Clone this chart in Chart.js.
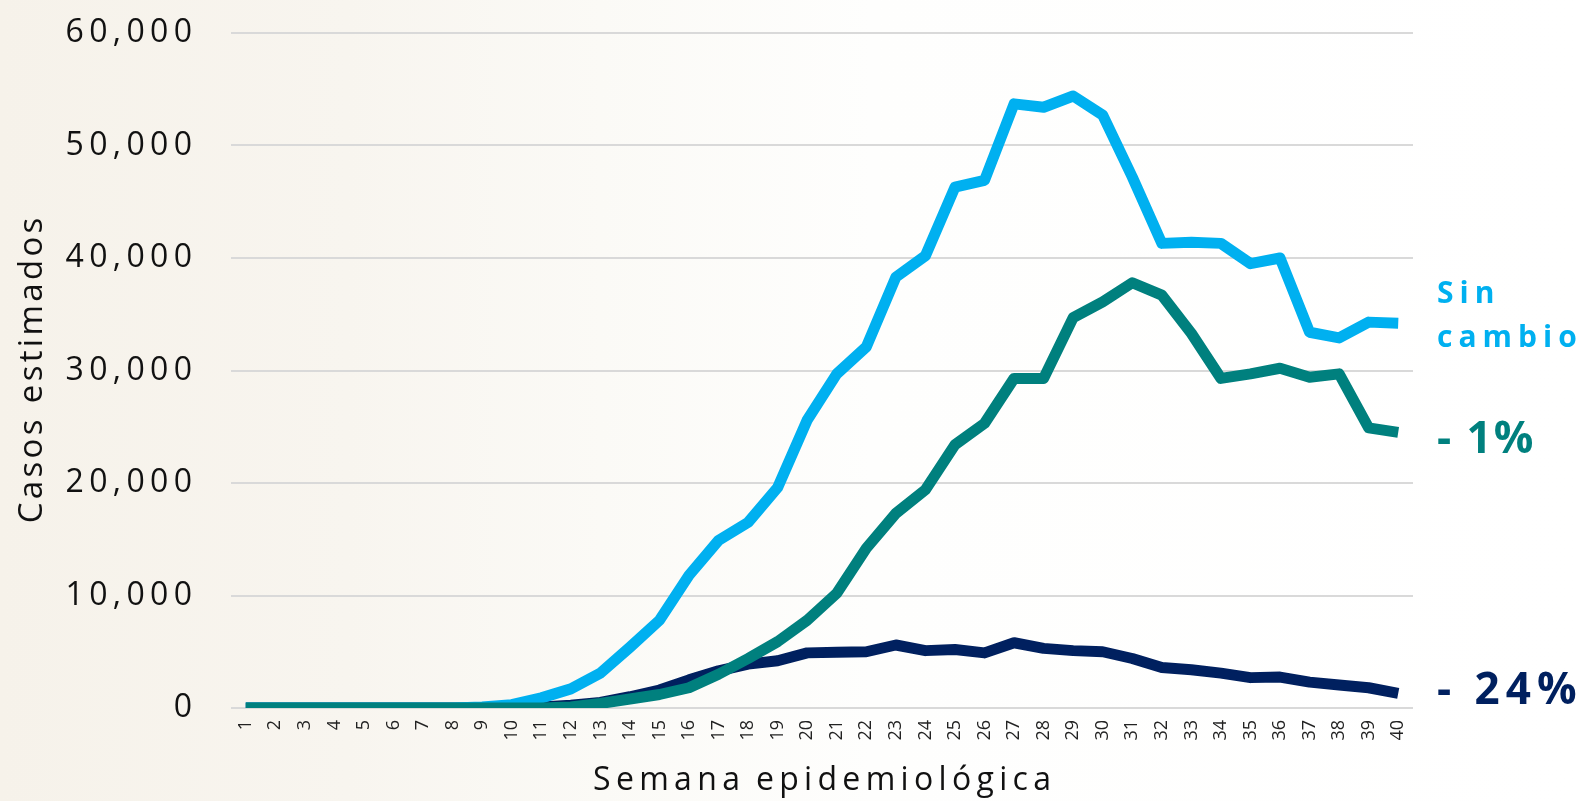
<!DOCTYPE html>
<html lang="es">
<head>
<meta charset="UTF-8" />
<title>Casos estimados por semana epidemiológica</title>
<script src="https://cdn.jsdelivr.net/npm/chart.js@4.4.0/dist/chart.umd.min.js"></script>
<style>
html,body{margin:0;padding:0}
body{width:1583px;height:801px;overflow:hidden;
  background:linear-gradient(90deg,#f6f2ea 0%,#f8f5ef 22%,#fbfaf6 38%,#fefefd 55%,#fff 100%)}
#wrap{position:relative;width:1583px;height:801px}
</style>
</head>
<body>
<div id="wrap"><canvas id="chart"></canvas></div>

<script>
/* ---------- datos ---------- */
const SEMANAS = ['1','2','3','4','5','6','7','8','9','10','11','12','13','14','15','16','17','18','19','20',
                 '21','22','23','24','25','26','27','28','29','30','31','32','33','34','35','36','37','38','39','40'];

// escenario "Sin cambio"
const SIN_CAMBIO = [0,0,0,0,0,0,0,0,100,300, 900,1700,3100,5400,7800,11800,14900,16500,19600,25600,
                    29700,32100,38300,40200,46300,46900,53700,53400,54400,52700, 47200,41300,41400,41300,39500,40000,33400,32900,34300,34200];
// escenario "- 1%"
const MENOS_1 = [0,0,0,0,0,0,0,0,0,0, 0,100,400,800,1200,1800,3000,4400,5900,7800,
                 10200,14200,17300,19400,23400,25300,29300,29300,34700,36100, 37800,36700,33300,29300,29700,30200,29400,29700,24900,24500];
// escenario "- 24%"
const MENOS_24 = [0,0,0,0,0,0,0,0,0,0, 100,250,500,1000,1600,2500,3300,3900,4200,4900,
                  4950,5000,5600,5100,5200,4900,5800,5300,5100,5000, 4400,3600,3400,3100,2700,2750,2300,2050,1800,1300];

const Y_MAX = 60000, Y_STEP = 10000;

const C_BLUE = '#00b0f0', C_TEAL = '#00807e', C_NAVY = '#00205f';
const FONT = '"Open Sans", "DejaVu Sans", sans-serif';

// separa letras con un espacio fino (imita el espaciado del original)
const spaced = (s, sp) => s.split('').join(sp);

/* ---------- etiquetas al final de las líneas ---------- */
const endLabels = {
  id: 'endLabels',
  afterDatasetsDraw(chart){
    const {ctx, chartArea, scales:{y}} = chart;
    const last = SEMANAS.length - 1;
    const x0 = chartArea.right + 24;
    ctx.save();
    ctx.textAlign = 'left';
    ctx.textBaseline = 'middle';

    let yy = y.getPixelForValue(SIN_CAMBIO[last]);
    ctx.fillStyle = C_BLUE;
    ctx.font = `bold 30px ${FONT}`;
    ctx.letterSpacing = '6px';
    ctx.fillText('Sin', x0, yy - 29);
    ctx.fillText('cambio', x0, yy + 15);

    yy = y.getPixelForValue(MENOS_1[last]);
    ctx.fillStyle = C_TEAL;
    ctx.font = `bold 44px ${FONT}`;
    ctx.letterSpacing = '2px';
    ctx.fillText('- 1%', x0, yy + 8);

    yy = y.getPixelForValue(MENOS_24[last]);
    ctx.fillStyle = C_NAVY;
    ctx.font = `bold 44px ${FONT}`;
    ctx.letterSpacing = '6px';
    ctx.fillText('- 24%', x0, yy - 2);
    ctx.restore();
  }
};

/* ---------- gráfica ---------- */
const mk = (lbl, data, color, order) => ({
  label: lbl, data, borderColor: color, backgroundColor: color,
  borderWidth: 11, pointRadius: 0, tension: 0, fill: false,
  borderJoinStyle: 'round', borderCapStyle: 'butt', order
});

new Chart(document.getElementById('chart'), {
  type: 'line',
  data: {
    labels: SEMANAS,
    datasets: [
      mk('- 1%', MENOS_1, C_TEAL, 1),
      mk('Sin cambio', SIN_CAMBIO, C_BLUE, 2),
      mk('- 24%', MENOS_24, C_NAVY, 3)
    ]
  },
  options: {
    responsive: true, maintainAspectRatio: false, animation: false,
    layout: {padding: {left: 0, right: 170, top: 33, bottom: 0}},
    plugins: {legend: {display: false}, tooltip: {enabled: false}},
    scales: {
      x: {
        offset: true,
        grid: {display: false, drawTicks: false},
        border: {display: false},
        ticks: {
          autoSkip: false, minRotation: 90, maxRotation: 90, padding: 12,
          color: '#222', font: {family: FONT, size: 18}
        },
        title: {
          display: true, text: spaced('Semana', '\u2009') + '\u2002' + spaced('epidemiológica', '\u2009'),
          color: '#111', font: {family: FONT, size: 32}, padding: {top: 0, bottom: 1}
        },
        afterFit: s => { s.height = 93; s.paddingLeft = 0; s.paddingRight = 0; }
      },
      y: {
        min: 0, max: Y_MAX,
        grid: {color: '#d9d9d9', lineWidth: 2, drawTicks: false},
        border: {display: false},
        ticks: {
          stepSize: Y_STEP, padding: 39, color: '#111',
          font: {family: FONT, size: 32},
          callback: v => spaced(Number(v).toLocaleString('en-US'), '\u2006')
        },
        title: {
          display: true, text: spaced('Casos', '\u200a') + '\u2002' + spaced('estimados', '\u200a'),
          color: '#111', font: {family: FONT, size: 33}, padding: {top: 13, bottom: 0}
        },
        afterFit: s => { s.width = 231; s.paddingTop = 0; s.paddingBottom = 0; }
      }
    }
  },
  plugins: [endLabels]
});
</script>
</body>
</html>
